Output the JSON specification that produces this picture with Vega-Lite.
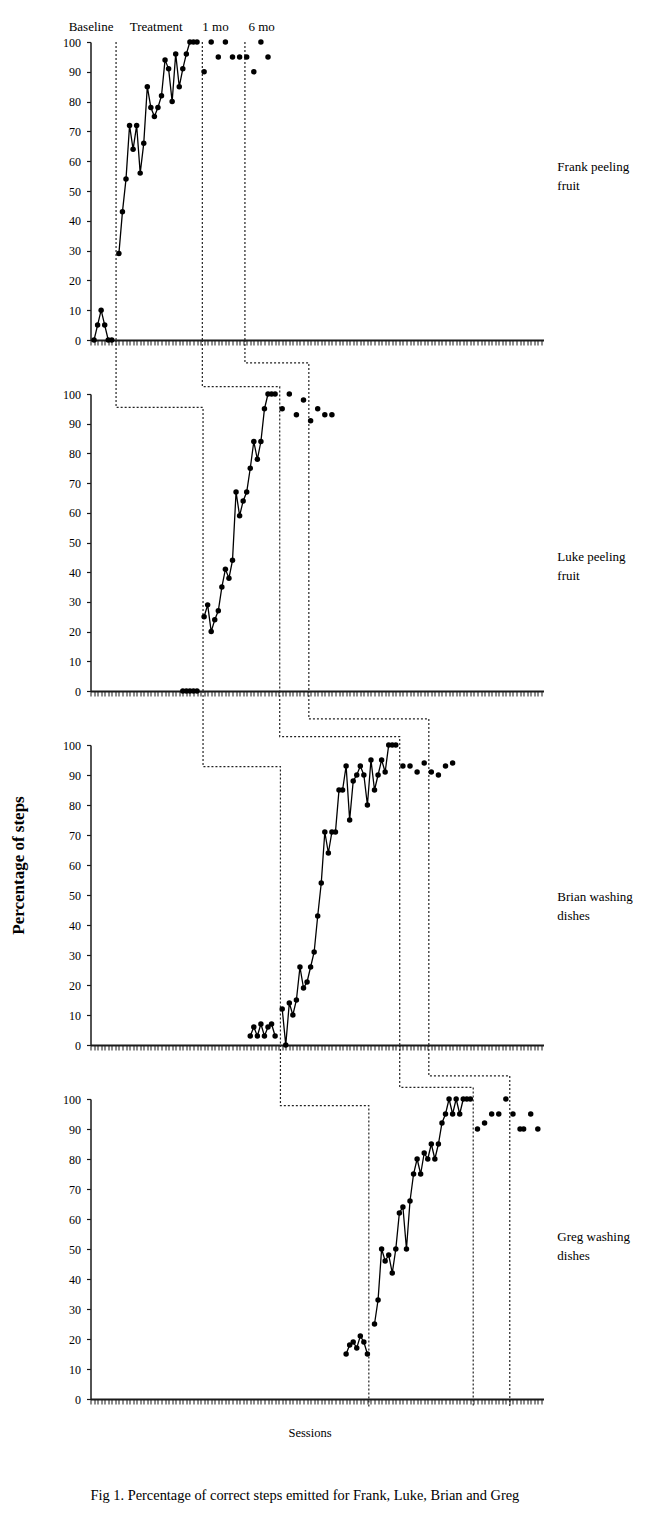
{
"$schema": "https://vega.github.io/schema/vega-lite/v6.json",
"padding": {"left": 9.5, "top": 21, "right": 2, "bottom": 8},
"background": "white",
"bounds": "flush",
"spacing": 54,
"title": {"text": "Fig 1. Percentage of correct steps emitted for Frank, Luke, Brian and Greg", "orient": "bottom", "anchor": "start", "frame": "group", "offset": 50, "font": "Liberation Serif", "fontSize": 14.4, "fontWeight": "normal", "color": "#000"},
"datasets": {
"obs": [
{"p":"Frank","s":1,"v":0,"ph":"Baseline"},{"p":"Frank","s":2,"v":5,"ph":"Baseline"},{"p":"Frank","s":3,"v":10,"ph":"Baseline"},{"p":"Frank","s":4,"v":5,"ph":"Baseline"},{"p":"Frank","s":5,"v":0,"ph":"Baseline"},{"p":"Frank","s":6,"v":0,"ph":"Baseline"},
{"p":"Frank","s":8,"v":29,"ph":"Treatment"},{"p":"Frank","s":9,"v":43,"ph":"Treatment"},{"p":"Frank","s":10,"v":54,"ph":"Treatment"},{"p":"Frank","s":11,"v":72,"ph":"Treatment"},{"p":"Frank","s":12,"v":64,"ph":"Treatment"},{"p":"Frank","s":13,"v":72,"ph":"Treatment"},{"p":"Frank","s":14,"v":56,"ph":"Treatment"},{"p":"Frank","s":15,"v":66,"ph":"Treatment"},{"p":"Frank","s":16,"v":85,"ph":"Treatment"},{"p":"Frank","s":17,"v":78,"ph":"Treatment"},{"p":"Frank","s":18,"v":75,"ph":"Treatment"},{"p":"Frank","s":19,"v":78,"ph":"Treatment"},{"p":"Frank","s":20,"v":82,"ph":"Treatment"},{"p":"Frank","s":21,"v":94,"ph":"Treatment"},{"p":"Frank","s":22,"v":91,"ph":"Treatment"},{"p":"Frank","s":23,"v":80,"ph":"Treatment"},{"p":"Frank","s":24,"v":96,"ph":"Treatment"},{"p":"Frank","s":25,"v":85,"ph":"Treatment"},{"p":"Frank","s":26,"v":91,"ph":"Treatment"},{"p":"Frank","s":27,"v":96,"ph":"Treatment"},{"p":"Frank","s":28,"v":100,"ph":"Treatment"},{"p":"Frank","s":29,"v":100,"ph":"Treatment"},{"p":"Frank","s":30,"v":100,"ph":"Treatment"},
{"p":"Frank","s":32,"v":90,"ph":"1 mo"},{"p":"Frank","s":34,"v":100,"ph":"1 mo"},{"p":"Frank","s":36,"v":95,"ph":"1 mo"},{"p":"Frank","s":38,"v":100,"ph":"1 mo"},{"p":"Frank","s":40,"v":95,"ph":"1 mo"},{"p":"Frank","s":42,"v":95,"ph":"1 mo"},
{"p":"Frank","s":44,"v":95,"ph":"6 mo"},{"p":"Frank","s":46,"v":90,"ph":"6 mo"},{"p":"Frank","s":48,"v":100,"ph":"6 mo"},{"p":"Frank","s":50,"v":95,"ph":"6 mo"},
{"p":"Luke","s":26,"v":0,"ph":"Baseline"},{"p":"Luke","s":27,"v":0,"ph":"Baseline"},{"p":"Luke","s":28,"v":0,"ph":"Baseline"},{"p":"Luke","s":29,"v":0,"ph":"Baseline"},{"p":"Luke","s":30,"v":0,"ph":"Baseline"},
{"p":"Luke","s":32,"v":25,"ph":"Treatment"},{"p":"Luke","s":33,"v":29,"ph":"Treatment"},{"p":"Luke","s":34,"v":20,"ph":"Treatment"},{"p":"Luke","s":35,"v":24,"ph":"Treatment"},{"p":"Luke","s":36,"v":27,"ph":"Treatment"},{"p":"Luke","s":37,"v":35,"ph":"Treatment"},{"p":"Luke","s":38,"v":41,"ph":"Treatment"},{"p":"Luke","s":39,"v":38,"ph":"Treatment"},{"p":"Luke","s":40,"v":44,"ph":"Treatment"},{"p":"Luke","s":41,"v":67,"ph":"Treatment"},{"p":"Luke","s":42,"v":59,"ph":"Treatment"},{"p":"Luke","s":43,"v":64,"ph":"Treatment"},{"p":"Luke","s":44,"v":67,"ph":"Treatment"},{"p":"Luke","s":45,"v":75,"ph":"Treatment"},{"p":"Luke","s":46,"v":84,"ph":"Treatment"},{"p":"Luke","s":47,"v":78,"ph":"Treatment"},{"p":"Luke","s":48,"v":84,"ph":"Treatment"},{"p":"Luke","s":49,"v":95,"ph":"Treatment"},{"p":"Luke","s":50,"v":100,"ph":"Treatment"},{"p":"Luke","s":51,"v":100,"ph":"Treatment"},{"p":"Luke","s":52,"v":100,"ph":"Treatment"},
{"p":"Luke","s":54,"v":95,"ph":"1 mo"},{"p":"Luke","s":56,"v":100,"ph":"1 mo"},{"p":"Luke","s":58,"v":93,"ph":"1 mo"},{"p":"Luke","s":60,"v":98,"ph":"1 mo"},
{"p":"Luke","s":62,"v":91,"ph":"6 mo"},{"p":"Luke","s":64,"v":95,"ph":"6 mo"},{"p":"Luke","s":66,"v":93,"ph":"6 mo"},{"p":"Luke","s":68,"v":93,"ph":"6 mo"},
{"p":"Brian","s":45,"v":3,"ph":"Baseline"},{"p":"Brian","s":46,"v":6,"ph":"Baseline"},{"p":"Brian","s":47,"v":3,"ph":"Baseline"},{"p":"Brian","s":48,"v":7,"ph":"Baseline"},{"p":"Brian","s":49,"v":3,"ph":"Baseline"},{"p":"Brian","s":50,"v":6,"ph":"Baseline"},{"p":"Brian","s":51,"v":7,"ph":"Baseline"},{"p":"Brian","s":52,"v":3,"ph":"Baseline"},
{"p":"Brian","s":54,"v":12,"ph":"Treatment"},{"p":"Brian","s":55,"v":0,"ph":"Treatment"},{"p":"Brian","s":56,"v":14,"ph":"Treatment"},{"p":"Brian","s":57,"v":10,"ph":"Treatment"},{"p":"Brian","s":58,"v":15,"ph":"Treatment"},{"p":"Brian","s":59,"v":26,"ph":"Treatment"},{"p":"Brian","s":60,"v":19,"ph":"Treatment"},{"p":"Brian","s":61,"v":21,"ph":"Treatment"},{"p":"Brian","s":62,"v":26,"ph":"Treatment"},{"p":"Brian","s":63,"v":31,"ph":"Treatment"},{"p":"Brian","s":64,"v":43,"ph":"Treatment"},{"p":"Brian","s":65,"v":54,"ph":"Treatment"},{"p":"Brian","s":66,"v":71,"ph":"Treatment"},{"p":"Brian","s":67,"v":64,"ph":"Treatment"},{"p":"Brian","s":68,"v":71,"ph":"Treatment"},{"p":"Brian","s":69,"v":71,"ph":"Treatment"},{"p":"Brian","s":70,"v":85,"ph":"Treatment"},{"p":"Brian","s":71,"v":85,"ph":"Treatment"},{"p":"Brian","s":72,"v":93,"ph":"Treatment"},{"p":"Brian","s":73,"v":75,"ph":"Treatment"},{"p":"Brian","s":74,"v":88,"ph":"Treatment"},{"p":"Brian","s":75,"v":90,"ph":"Treatment"},{"p":"Brian","s":76,"v":93,"ph":"Treatment"},{"p":"Brian","s":77,"v":90,"ph":"Treatment"},{"p":"Brian","s":78,"v":80,"ph":"Treatment"},{"p":"Brian","s":79,"v":95,"ph":"Treatment"},{"p":"Brian","s":80,"v":85,"ph":"Treatment"},{"p":"Brian","s":81,"v":90,"ph":"Treatment"},{"p":"Brian","s":82,"v":95,"ph":"Treatment"},{"p":"Brian","s":83,"v":91,"ph":"Treatment"},{"p":"Brian","s":84,"v":100,"ph":"Treatment"},{"p":"Brian","s":85,"v":100,"ph":"Treatment"},{"p":"Brian","s":86,"v":100,"ph":"Treatment"},
{"p":"Brian","s":88,"v":93,"ph":"1 mo"},{"p":"Brian","s":90,"v":93,"ph":"1 mo"},{"p":"Brian","s":92,"v":91,"ph":"1 mo"},{"p":"Brian","s":94,"v":94,"ph":"1 mo"},
{"p":"Brian","s":96,"v":91,"ph":"6 mo"},{"p":"Brian","s":98,"v":90,"ph":"6 mo"},{"p":"Brian","s":100,"v":93,"ph":"6 mo"},{"p":"Brian","s":102,"v":94,"ph":"6 mo"},
{"p":"Greg","s":72,"v":15,"ph":"Baseline"},{"p":"Greg","s":73,"v":18,"ph":"Baseline"},{"p":"Greg","s":74,"v":19,"ph":"Baseline"},{"p":"Greg","s":75,"v":17,"ph":"Baseline"},{"p":"Greg","s":76,"v":21,"ph":"Baseline"},{"p":"Greg","s":77,"v":19,"ph":"Baseline"},{"p":"Greg","s":78,"v":15,"ph":"Baseline"},
{"p":"Greg","s":80,"v":25,"ph":"Treatment"},{"p":"Greg","s":81,"v":33,"ph":"Treatment"},{"p":"Greg","s":82,"v":50,"ph":"Treatment"},{"p":"Greg","s":83,"v":46,"ph":"Treatment"},{"p":"Greg","s":84,"v":48,"ph":"Treatment"},{"p":"Greg","s":85,"v":42,"ph":"Treatment"},{"p":"Greg","s":86,"v":50,"ph":"Treatment"},{"p":"Greg","s":87,"v":62,"ph":"Treatment"},{"p":"Greg","s":88,"v":64,"ph":"Treatment"},{"p":"Greg","s":89,"v":50,"ph":"Treatment"},{"p":"Greg","s":90,"v":66,"ph":"Treatment"},{"p":"Greg","s":91,"v":75,"ph":"Treatment"},{"p":"Greg","s":92,"v":80,"ph":"Treatment"},{"p":"Greg","s":93,"v":75,"ph":"Treatment"},{"p":"Greg","s":94,"v":82,"ph":"Treatment"},{"p":"Greg","s":95,"v":80,"ph":"Treatment"},{"p":"Greg","s":96,"v":85,"ph":"Treatment"},{"p":"Greg","s":97,"v":80,"ph":"Treatment"},{"p":"Greg","s":98,"v":85,"ph":"Treatment"},{"p":"Greg","s":99,"v":92,"ph":"Treatment"},{"p":"Greg","s":100,"v":95,"ph":"Treatment"},{"p":"Greg","s":101,"v":100,"ph":"Treatment"},{"p":"Greg","s":102,"v":95,"ph":"Treatment"},{"p":"Greg","s":103,"v":100,"ph":"Treatment"},{"p":"Greg","s":104,"v":95,"ph":"Treatment"},{"p":"Greg","s":105,"v":100,"ph":"Treatment"},{"p":"Greg","s":106,"v":100,"ph":"Treatment"},{"p":"Greg","s":107,"v":100,"ph":"Treatment"},
{"p":"Greg","s":109,"v":90,"ph":"1 mo"},{"p":"Greg","s":111,"v":92,"ph":"1 mo"},{"p":"Greg","s":113,"v":95,"ph":"1 mo"},{"p":"Greg","s":115,"v":95,"ph":"1 mo"},{"p":"Greg","s":117,"v":100,"ph":"1 mo"},
{"p":"Greg","s":119,"v":95,"ph":"6 mo"},{"p":"Greg","s":121,"v":90,"ph":"6 mo"},{"p":"Greg","s":122,"v":90,"ph":"6 mo"},{"p":"Greg","s":124,"v":95,"ph":"6 mo"},{"p":"Greg","s":126,"v":90,"ph":"6 mo"}
],
"links": [
{"p":"Frank","c":"Treatment","k":1,"s":7.2,"v":100},{"p":"Frank","c":"Treatment","k":2,"s":7.2,"v":0},
{"p":"Frank","c":"1 mo","k":1,"s":31.5,"v":100},{"p":"Frank","c":"1 mo","k":2,"s":31.5,"v":0},
{"p":"Frank","c":"6 mo","k":1,"s":43.5,"v":100},{"p":"Frank","c":"6 mo","k":2,"s":43.5,"v":0},
{"p":"Luke","c":"Treatment","k":1,"s":7.2,"v":118.2},{"p":"Luke","c":"Treatment","k":2,"s":7.2,"v":95.5},{"p":"Luke","c":"Treatment","k":3,"s":31.7,"v":95.5},{"p":"Luke","c":"Treatment","k":4,"s":31.7,"v":0},
{"p":"Luke","c":"1 mo","k":1,"s":31.5,"v":118.2},{"p":"Luke","c":"1 mo","k":2,"s":31.5,"v":102.5},{"p":"Luke","c":"1 mo","k":3,"s":53.3,"v":102.5},{"p":"Luke","c":"1 mo","k":4,"s":53.3,"v":0},
{"p":"Luke","c":"6 mo","k":1,"s":43.5,"v":118.2},{"p":"Luke","c":"6 mo","k":2,"s":43.5,"v":110.5},{"p":"Luke","c":"6 mo","k":3,"s":61.5,"v":110.5},{"p":"Luke","c":"6 mo","k":4,"s":61.5,"v":0},
{"p":"Brian","c":"Treatment","k":1,"s":31.7,"v":118},{"p":"Brian","c":"Treatment","k":2,"s":31.7,"v":92.8},{"p":"Brian","c":"Treatment","k":3,"s":53.5,"v":92.8},{"p":"Brian","c":"Treatment","k":4,"s":53.5,"v":0},
{"p":"Brian","c":"1 mo","k":1,"s":53.3,"v":118},{"p":"Brian","c":"1 mo","k":2,"s":53.3,"v":102.8},{"p":"Brian","c":"1 mo","k":3,"s":87.1,"v":102.8},{"p":"Brian","c":"1 mo","k":4,"s":87.1,"v":0},
{"p":"Brian","c":"6 mo","k":1,"s":61.5,"v":118},{"p":"Brian","c":"6 mo","k":2,"s":61.5,"v":108.7},{"p":"Brian","c":"6 mo","k":3,"s":95.3,"v":108.7},{"p":"Brian","c":"6 mo","k":4,"s":95.3,"v":0},
{"p":"Greg","c":"Treatment","k":1,"s":53.5,"v":118},{"p":"Greg","c":"Treatment","k":2,"s":53.5,"v":97.8},{"p":"Greg","c":"Treatment","k":3,"s":78.4,"v":97.8},{"p":"Greg","c":"Treatment","k":4,"s":78.4,"v":-2.7},
{"p":"Greg","c":"1 mo","k":1,"s":87.1,"v":118},{"p":"Greg","c":"1 mo","k":2,"s":87.1,"v":103.9},{"p":"Greg","c":"1 mo","k":3,"s":107.8,"v":103.9},{"p":"Greg","c":"1 mo","k":4,"s":107.8,"v":-2.7},
{"p":"Greg","c":"6 mo","k":1,"s":95.3,"v":118},{"p":"Greg","c":"6 mo","k":2,"s":95.3,"v":107.7},{"p":"Greg","c":"6 mo","k":3,"s":118.1,"v":107.7},{"p":"Greg","c":"6 mo","k":4,"s":118.1,"v":-2.7}
]
},
"vconcat": [
{
"width": 453, "height": 298,
"layer": [
{"data": {"name": "links"}, "transform": [{"filter": "datum.p === 'Frank'"}],
 "mark": {"type": "line", "strokeDash": [2, 2], "strokeWidth": 1.2, "color": "#222"},
 "encoding": {"x": {"field": "s", "type": "quantitative", "scale": {"domain": [0, 127.6], "nice": false, "zero": false}, "axis": {"title": null}},
  "y": {"field": "v", "type": "quantitative", "scale": {"domain": [0, 100], "nice": false}, "axis": {"title": null}},
  "detail": {"field": "c", "type": "nominal"}, "order": {"field": "k", "type": "quantitative"}}},
{"data": {"name": "obs"}, "transform": [{"filter": "datum.p === 'Frank' && (datum.ph === 'Baseline' || datum.ph === 'Treatment')"}],
 "mark": {"type": "line", "color": "#000", "strokeWidth": 1.3},
 "encoding": {"x": {"field": "s", "type": "quantitative", "scale": {"domain": [0, 127.6], "nice": false, "zero": false}, "axis": {"title": null}},
  "y": {"field": "v", "type": "quantitative", "scale": {"domain": [0, 100], "nice": false}, "axis": {"title": null}}, "detail": {"field": "ph", "type": "nominal"}}},
{"data": {"name": "obs"}, "transform": [{"filter": "datum.p === 'Frank'"}],
 "mark": {"type": "point", "filled": true, "size": 30, "color": "#000", "opacity": 1},
 "encoding": {"x": {"field": "s", "type": "quantitative", "scale": {"domain": [0, 127.6], "nice": false, "zero": false}, "axis": {"title": null}},
  "y": {"field": "v", "type": "quantitative", "scale": {"domain": [0, 100], "nice": false}, "axis": {"title": null}}}},
{"data": {"values": [{}]}, "mark": {"type": "text", "fontSize": 13, "align": "center", "baseline": "middle"},
 "encoding": {"x": {"datum": 0.15, "type": "quantitative"}, "y": {"datum": 105, "type": "quantitative"}, "text": {"value": "Baseline"}}},
{"data": {"values": [{}]}, "mark": {"type": "text", "fontSize": 13, "align": "center", "baseline": "middle"},
 "encoding": {"x": {"datum": 18.5, "type": "quantitative"}, "y": {"datum": 105, "type": "quantitative"}, "text": {"value": "Treatment"}}},
{"data": {"values": [{}]}, "mark": {"type": "text", "fontSize": 13, "align": "center", "baseline": "middle"},
 "encoding": {"x": {"datum": 35.2, "type": "quantitative"}, "y": {"datum": 105, "type": "quantitative"}, "text": {"value": "1 mo"}}},
{"data": {"values": [{}]}, "mark": {"type": "text", "fontSize": 13, "align": "center", "baseline": "middle"},
 "encoding": {"x": {"datum": 48.2, "type": "quantitative"}, "y": {"datum": 105, "type": "quantitative"}, "text": {"value": "6 mo"}}},
{"data": {"values": [{}]}, "mark": {"type": "text", "fontSize": 13, "align": "left", "baseline": "middle", "lineHeight": 19},
 "encoding": {"x": {"datum": 131.5, "type": "quantitative"}, "y": {"datum": 58.1, "type": "quantitative"}, "text": {"value": ["Frank peeling", "fruit"]}}}
]
},
{
"width": 453, "height": 297,
"layer": [
{"data": {"name": "links"}, "transform": [{"filter": "datum.p === 'Luke'"}],
 "mark": {"type": "line", "strokeDash": [2, 2], "strokeWidth": 1.2, "color": "#222"},
 "encoding": {"x": {"field": "s", "type": "quantitative", "scale": {"domain": [0, 127.6], "nice": false, "zero": false}, "axis": {"title": null}},
  "y": {"field": "v", "type": "quantitative", "scale": {"domain": [0, 100], "nice": false}, "axis": {"title": null}},
  "detail": {"field": "c", "type": "nominal"}, "order": {"field": "k", "type": "quantitative"}}},
{"data": {"name": "obs"}, "transform": [{"filter": "datum.p === 'Luke' && (datum.ph === 'Baseline' || datum.ph === 'Treatment')"}],
 "mark": {"type": "line", "color": "#000", "strokeWidth": 1.3},
 "encoding": {"x": {"field": "s", "type": "quantitative", "scale": {"domain": [0, 127.6], "nice": false, "zero": false}, "axis": {"title": null}},
  "y": {"field": "v", "type": "quantitative", "scale": {"domain": [0, 100], "nice": false}, "axis": {"title": null}}, "detail": {"field": "ph", "type": "nominal"}}},
{"data": {"name": "obs"}, "transform": [{"filter": "datum.p === 'Luke'"}],
 "mark": {"type": "point", "filled": true, "size": 30, "color": "#000", "opacity": 1},
 "encoding": {"x": {"field": "s", "type": "quantitative", "scale": {"domain": [0, 127.6], "nice": false, "zero": false}, "axis": {"title": null}},
  "y": {"field": "v", "type": "quantitative", "scale": {"domain": [0, 100], "nice": false}, "axis": {"title": null}}}},
{"data": {"values": [{}]}, "mark": {"type": "text", "fontSize": 13, "align": "left", "baseline": "middle", "lineHeight": 19},
 "encoding": {"x": {"datum": 131.5, "type": "quantitative"}, "y": {"datum": 45.1, "type": "quantitative"}, "text": {"value": ["Luke peeling", "fruit"]}}}
]
},
{
"width": 453, "height": 300,
"layer": [
{"data": {"name": "links"}, "transform": [{"filter": "datum.p === 'Brian'"}],
 "mark": {"type": "line", "strokeDash": [2, 2], "strokeWidth": 1.2, "color": "#222"},
 "encoding": {"x": {"field": "s", "type": "quantitative", "scale": {"domain": [0, 127.6], "nice": false, "zero": false}, "axis": {"title": null}},
  "y": {"field": "v", "type": "quantitative", "scale": {"domain": [0, 100], "nice": false}, "axis": {"title": "Percentage of steps", "titleFontSize": 17, "titleFontWeight": "bold", "titleAngle": 270, "titleX": -72, "titleY": 120, "titleBaseline": "middle", "titleAlign": "center"}},
  "detail": {"field": "c", "type": "nominal"}, "order": {"field": "k", "type": "quantitative"}}},
{"data": {"name": "obs"}, "transform": [{"filter": "datum.p === 'Brian' && (datum.ph === 'Baseline' || datum.ph === 'Treatment')"}],
 "mark": {"type": "line", "color": "#000", "strokeWidth": 1.3},
 "encoding": {"x": {"field": "s", "type": "quantitative", "scale": {"domain": [0, 127.6], "nice": false, "zero": false}, "axis": {"title": null}},
  "y": {"field": "v", "type": "quantitative", "scale": {"domain": [0, 100], "nice": false}, "axis": {"title": "Percentage of steps", "titleFontSize": 17, "titleFontWeight": "bold", "titleAngle": 270, "titleX": -72, "titleY": 120, "titleBaseline": "middle", "titleAlign": "center"}}, "detail": {"field": "ph", "type": "nominal"}}},
{"data": {"name": "obs"}, "transform": [{"filter": "datum.p === 'Brian'"}],
 "mark": {"type": "point", "filled": true, "size": 30, "color": "#000", "opacity": 1},
 "encoding": {"x": {"field": "s", "type": "quantitative", "scale": {"domain": [0, 127.6], "nice": false, "zero": false}, "axis": {"title": null}},
  "y": {"field": "v", "type": "quantitative", "scale": {"domain": [0, 100], "nice": false}, "axis": {"title": "Percentage of steps", "titleFontSize": 17, "titleFontWeight": "bold", "titleAngle": 270, "titleX": -72, "titleY": 120, "titleBaseline": "middle", "titleAlign": "center"}}}},
{"data": {"values": [{}]}, "mark": {"type": "text", "fontSize": 13, "align": "left", "baseline": "middle", "lineHeight": 19},
 "encoding": {"x": {"datum": 131.5, "type": "quantitative"}, "y": {"datum": 49.3, "type": "quantitative"}, "text": {"value": ["Brian washing", "dishes"]}}}
]
},
{
"width": 453, "height": 300,
"layer": [
{"data": {"name": "links"}, "transform": [{"filter": "datum.p === 'Greg'"}],
 "mark": {"type": "line", "strokeDash": [2, 2], "strokeWidth": 1.2, "color": "#222"},
 "encoding": {"x": {"field": "s", "type": "quantitative", "scale": {"domain": [0, 127.6], "nice": false, "zero": false}, "axis": {"title": "Sessions", "titleFontSize": 12.5, "titleFontWeight": "normal", "titleX": 219, "titleY": 33, "titleBaseline": "middle"}},
  "y": {"field": "v", "type": "quantitative", "scale": {"domain": [0, 100], "nice": false}, "axis": {"title": null}},
  "detail": {"field": "c", "type": "nominal"}, "order": {"field": "k", "type": "quantitative"}}},
{"data": {"name": "obs"}, "transform": [{"filter": "datum.p === 'Greg' && (datum.ph === 'Baseline' || datum.ph === 'Treatment')"}],
 "mark": {"type": "line", "color": "#000", "strokeWidth": 1.3},
 "encoding": {"x": {"field": "s", "type": "quantitative", "scale": {"domain": [0, 127.6], "nice": false, "zero": false}, "axis": {"title": "Sessions", "titleFontSize": 12.5, "titleFontWeight": "normal", "titleX": 219, "titleY": 33, "titleBaseline": "middle"}},
  "y": {"field": "v", "type": "quantitative", "scale": {"domain": [0, 100], "nice": false}, "axis": {"title": null}}, "detail": {"field": "ph", "type": "nominal"}}},
{"data": {"name": "obs"}, "transform": [{"filter": "datum.p === 'Greg'"}],
 "mark": {"type": "point", "filled": true, "size": 30, "color": "#000", "opacity": 1},
 "encoding": {"x": {"field": "s", "type": "quantitative", "scale": {"domain": [0, 127.6], "nice": false, "zero": false}, "axis": {"title": "Sessions", "titleFontSize": 12.5, "titleFontWeight": "normal", "titleX": 219, "titleY": 33, "titleBaseline": "middle"}},
  "y": {"field": "v", "type": "quantitative", "scale": {"domain": [0, 100], "nice": false}, "axis": {"title": null}}}},
{"data": {"values": [{}]}, "mark": {"type": "text", "fontSize": 13, "align": "left", "baseline": "middle", "lineHeight": 19},
 "encoding": {"x": {"datum": 131.5, "type": "quantitative"}, "y": {"datum": 54, "type": "quantitative"}, "text": {"value": ["Greg washing", "dishes"]}}}
]
}
],
"resolve": {"scale": {"x": "independent", "y": "independent"}},
"config": {
"font": "Liberation Serif",
"view": {"stroke": null},
"axis": {"grid": false, "domainColor": "#1a1a1a", "tickColor": "#1a1a1a", "labelColor": "#000", "labelFont": "Liberation Serif", "titleFont": "Liberation Serif", "titleColor": "#000"},
"axisX": {"labels": false, "tickCount": 128, "domainWidth": 2, "tickSize": 5, "tickWidth": 1},
"axisY": {"tickCount": 10, "labelFont": "Liberation Serif", "labelFontSize": 12, "tickSize": 4, "labelPadding": 6, "domainWidth": 1.5, "tickWidth": 1.2},
"text": {"font": "Liberation Serif", "color": "#000"}
}
}
